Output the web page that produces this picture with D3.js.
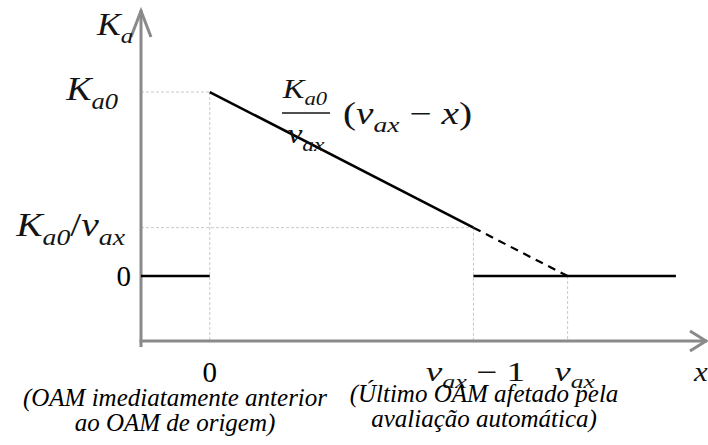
<!DOCTYPE html>
<html><head><meta charset="utf-8">
<script src="https://cdn.jsdelivr.net/npm/d3@7/dist/d3.min.js"></script></head>
<body style="margin:0">
<div id="c"></div>
<script>
// schematic values (Ka0 = 1, vax read as ~3.8 units from the picture)
var ka0 = 1;
var vax = 3.8;
var kaLow = 0.263;           // Ka0/vax

// line pieces of the curve
var solidLine = [[0, ka0], [2.8, kaLow]];
var dashedLine = [[2.8, kaLow], [3.8, 0]];
var zeroLeft = [[-0.73, 0], [0, 0]];
var zeroRight = [[2.8, 0], [4.95, 0]];

// dotted guides: [x1, y1, x2, y2]
var guides = [
  [-0.73, ka0, 0, ka0],
  [0, ka0, 0, -0.353],
  [-0.73, kaLow, 2.8, kaLow],
  [2.8, kaLow, 2.8, -0.353],
  [3.8, 0, 3.8, -0.353]
];

var xTicks = [0, 2.8, 3.8];
var yTicks = [ka0, kaLow, 0];
var captionLines = [
  ["(OAM imediatamente anterior", "ao OAM de origem)"],
  ["(Último OAM afetado pela", "avaliação automática)"]
];

var serif = "'Liberation Serif', serif";

var svg = d3.select("#c").append("svg")
  .attr("width", 708)
  .attr("height", 445)
  .style("font-family", serif);

var x = d3.scaleLinear().domain([-0.73, 5.28]).range([141, 707]);
var y = d3.scaleLinear().domain([-0.353, 1.446]).range([341, 10]);

var line = d3.line()
  .x(function(d) { return x(d[0]); })
  .y(function(d) { return y(d[1]); });

svg.selectAll(".guide")
  .data(guides)
  .enter().append("line")
  .attr("class", "guide")
  .attr("x1", function(d) { return x(d[0]); })
  .attr("y1", function(d) { return y(d[1]); })
  .attr("x2", function(d) { return x(d[2]); })
  .attr("y2", function(d) { return y(d[3]); })
  .style("stroke", "#c8c8c8")
  .style("stroke-width", 1)
  .style("stroke-dasharray", "3,2");

var axisColor = "#8a8a8a";
svg.append("line")
  .attr("x1", x(-0.73)).attr("y1", y(-0.353) + 6)
  .attr("x2", x(-0.73)).attr("y2", y(1.446))
  .style("stroke", axisColor).style("stroke-width", 3);
svg.append("line")
  .attr("x1", x(-0.73) - 1.5).attr("y1", y(-0.353))
  .attr("x2", x(5.28)).attr("y2", y(-0.353))
  .style("stroke", axisColor).style("stroke-width", 3);

// arrow heads
svg.append("path")
  .attr("d", "M" + (x(-0.73) - 10) + "," + (y(1.446) + 27) +
             "L" + x(-0.73) + "," + (y(1.446) + 1) +
             "L" + (x(-0.73) + 10) + "," + (y(1.446) + 27))
  .style("fill", "none").style("stroke", axisColor).style("stroke-width", 3);
svg.append("path")
  .attr("d", "M" + (x(5.28) - 17) + "," + (y(-0.353) - 10) +
             "L" + (x(5.28) - 1) + "," + y(-0.353) +
             "L" + (x(5.28) - 17) + "," + (y(-0.353) + 10))
  .style("fill", "none").style("stroke", axisColor).style("stroke-width", 3);

[solidLine, zeroLeft, zeroRight].forEach(function(seg) {
  svg.append("path")
    .attr("d", line(seg))
    .style("fill", "none").style("stroke", "#000").style("stroke-width", 2.6);
});
svg.append("path")
  .attr("d", line(dashedLine))
  .style("fill", "none").style("stroke", "#000").style("stroke-width", 2.2)
  .style("stroke-dasharray", "8,6");

// math text: parts are [text, isSub, upright]; g is scaled sideways to mimic the wider math font
function mathText(parent, parts, px, py, size, anchor, sx) {
  var g = parent.append("g").attr("transform", "translate(" + px + "," + py + ") scale(" + sx + ",1)");
  var t = g.append("text")
    .attr("text-anchor", anchor)
    .style("fill", "#141414")
    .style("font-family", serif)
    .style("font-size", size + "px")
    .style("font-style", "italic");
  var low = false;
  parts.forEach(function(p) {
    var s = t.append("tspan").text(p[0]);
    if (p[1]) {
      s.style("font-size", (size * 0.7) + "px");
      if (!low) s.attr("dy", size * 0.27);
      low = true;
    } else {
      if (low) s.attr("dy", -size * 0.27);
      low = false;
    }
    if (p[2]) s.style("font-style", "normal");
  });
  return t;
}

// y labels
mathText(svg, [["K"], ["a", true]], 97, 35, 31, "start", 1.15);
mathText(svg, [["K"], ["a0", true]], 118, y(yTicks[0]) + 8, 33, "end", 1.15);
mathText(svg, [["K"], ["a0", true], ["/", false, true], ["v"], ["ax", true]], 125, y(yTicks[1]) + 8, 33, "end", 1.2);
svg.append("text")
  .attr("x", 131).attr("y", y(yTicks[2]) + 10)
  .attr("text-anchor", "end")
  .style("font-size", "29px").text("0");

// formula
mathText(svg, [["K"], ["a0", true]], 305, 98, 27, "middle", 1.2);
svg.append("line").attr("x1", 282).attr("x2", 330).attr("y1", 113).attr("y2", 113)
  .style("stroke", "#141414").style("stroke-width", 1.6);
mathText(svg, [["v"], ["ax", true]], 306, 143, 28, "middle", 1.2);
mathText(svg, [["(", false, true], ["v"], ["ax", true], [" \u2212 ", false, true], ["x"], [")", false, true]], 343, 124, 31, "start", 1.27);

// x labels
svg.append("text")
  .attr("x", x(xTicks[0])).attr("y", 382)
  .attr("text-anchor", "middle")
  .style("font-size", "29px").text("0");
mathText(svg, [["v"], ["ax", true], [" \u2212 1", false, true]], x(xTicks[1]) + 2, 381, 27, "middle", 1.38);
mathText(svg, [["v"], ["ax", true]], x(xTicks[2]) + 7, 381, 27, "middle", 1.35);
mathText(svg, [["x"]], 694, 381, 27, "start", 1.15);

// captions
var capX = [175, 484], capY = [406, 402];
captionLines.forEach(function(ls, k) {
  svg.selectAll(".cap" + k)
    .data(ls)
    .enter().append("text")
    .attr("class", "cap" + k)
    .attr("x", capX[k])
    .attr("y", function(d, i) { return capY[k] + i * 25; })
    .attr("text-anchor", "middle")
    .style("font-size", "25px")
    .style("font-style", "italic")
    .text(function(d) { return d; });
});
</script></body></html>
